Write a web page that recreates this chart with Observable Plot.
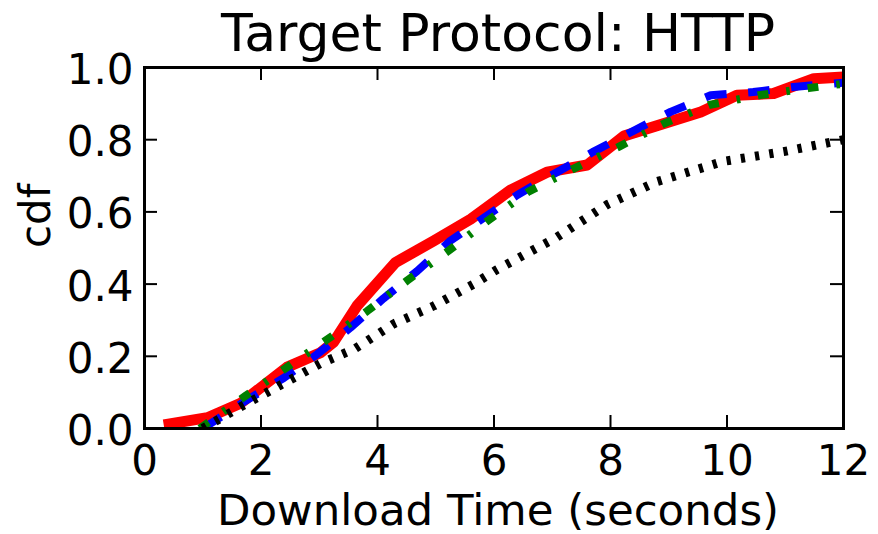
<!DOCTYPE html>
<html><head><meta charset="utf-8">
<script src="https://cdn.jsdelivr.net/npm/d3@7"></script>
<script src="https://cdn.jsdelivr.net/npm/@observablehq/plot@0.6"></script>
<style>body{margin:0;background:#fff} svg{display:block}</style>
</head><body><div id="chart"></div>
<script>
const title = "Target Protocol: HTTP";
const xLabel = "Download Time (seconds)";
const yLabel = "cdf";
const xTicks = [0, 2, 4, 6, 8, 10, 12];
const yTicks = [0, 0.2, 0.4, 0.6, 0.8, 1.0];

const redX = [0.33, 1.08, 1.65, 2.45, 3.02, 3.25, 3.65, 4.31, 4.97, 5.6, 6.11, 6.28, 6.91, 7.6, 8.23, 8.92, 9.55, 10.17, 10.8, 11.49, 12];
const redY = [0.01, 0.03, 0.07, 0.17, 0.21, 0.24, 0.34, 0.46, 0.52, 0.58, 0.64, 0.66, 0.71, 0.73, 0.81, 0.845, 0.877, 0.923, 0.928, 0.969, 0.974];

const blueX = [1.0, 1.7, 2.39, 2.96, 3.54, 4.1, 4.68, 5.25, 5.82, 6.4, 7.08, 7.71, 8.34, 9.03, 9.72, 10.45, 11.14, 12];
const blueY = [0.0, 0.073, 0.14, 0.205, 0.28, 0.36, 0.436, 0.52, 0.583, 0.647, 0.71, 0.767, 0.82, 0.877, 0.923, 0.932, 0.946, 0.958];

const greenX = [0.95, 1.73, 2.45, 3.14, 3.82, 4.51, 5.2, 5.88, 6.6, 7.37, 8.14, 8.92, 9.69, 10.55, 11.4, 12];
const greenY = [0.0, 0.09, 0.17, 0.247, 0.325, 0.41, 0.49, 0.574, 0.657, 0.72, 0.78, 0.845, 0.896, 0.923, 0.943, 0.955];

const blackX = [1.0, 1.65, 2.33, 3.02, 3.6, 4.28, 4.97, 5.65, 6.05, 7.08, 7.94, 8.8, 9.94, 10.97, 12];
const blackY = [0.0, 0.06, 0.12, 0.18, 0.22, 0.29, 0.34, 0.40, 0.44, 0.53, 0.62, 0.684, 0.74, 0.767, 0.80];

const zip = (xs, ys) => xs.map((x, i) => ({x, y: ys[i]}));
const red = zip(redX, redY), blue = zip(blueX, blueY), green = zip(greenX, greenY), black = zip(blackX, blackY);

const W = 878, H = 534, mL = 144, mR = 35, mT = 67, mB = 106;
const innerW = W - mL - mR, innerH = H - mT - mB;
const tickLen = 13;
const lineOpts = {x: "x", y: "y", strokeLinecap: "butt", strokeLinejoin: "round", clip: true};

const chart = Plot.plot({
  width: W, height: H,
  marginLeft: mL, marginRight: mR, marginTop: mT, marginBottom: mB,
  style: {fontFamily: "DejaVu Sans", background: "white", color: "black", overflow: "visible"},
  x: {domain: [0, 12], label: null},
  y: {domain: [0, 1], label: null},
  marks: [
    Plot.axisX({ticks: xTicks, tickSize: 0, tickPadding: 17, fontSize: 42, tickFormat: d => String(d), label: null}),
    Plot.axisY({ticks: yTicks, tickSize: 0, tickPadding: 11, fontSize: 42, dy: 3, tickFormat: d3.format(".1f"), label: null}),
    Plot.line(red, {...lineOpts, stroke: "#ff0000", strokeWidth: 11}),
    Plot.line(blue, {...lineOpts, stroke: "#0000ff", strokeWidth: 8, strokeDasharray: "21.6,21.6"}),
    Plot.line(green, {...lineOpts, stroke: "#008000", strokeWidth: 8, strokeDasharray: "10.8,18,3.6,18"}),
    Plot.line(black, {...lineOpts, stroke: "black", strokeWidth: 9, strokeDasharray: "4.2,10.2"}),
    Plot.tickX(xTicks, {x: d => d, insetTop: innerH - tickLen, stroke: "black", strokeWidth: 2}),
    Plot.tickX(xTicks, {x: d => d, insetBottom: innerH - tickLen, stroke: "black", strokeWidth: 2}),
    Plot.tickY(yTicks, {y: d => d, insetRight: innerW - tickLen, stroke: "black", strokeWidth: 2}),
    Plot.tickY(yTicks, {y: d => d, insetLeft: innerW - tickLen, stroke: "black", strokeWidth: 2}),
    Plot.frame({stroke: "black", strokeWidth: 3}),
    Plot.text([title], {text: d => d, frameAnchor: "top", dy: -33, dx: 4, fontSize: 52, lineAnchor: "middle", fill: "black"}),
    Plot.text([xLabel], {text: d => d, frameAnchor: "bottom", dy: 83, dx: 4, fontSize: 43.5, lineAnchor: "middle", fill: "black"}),
    Plot.text([yLabel], {text: d => d, frameAnchor: "left", dx: -108, rotate: -90, fontSize: 42, lineAnchor: "middle", fill: "black"})
  ]
});
document.getElementById("chart").appendChild(chart);
</script>
</body></html>
